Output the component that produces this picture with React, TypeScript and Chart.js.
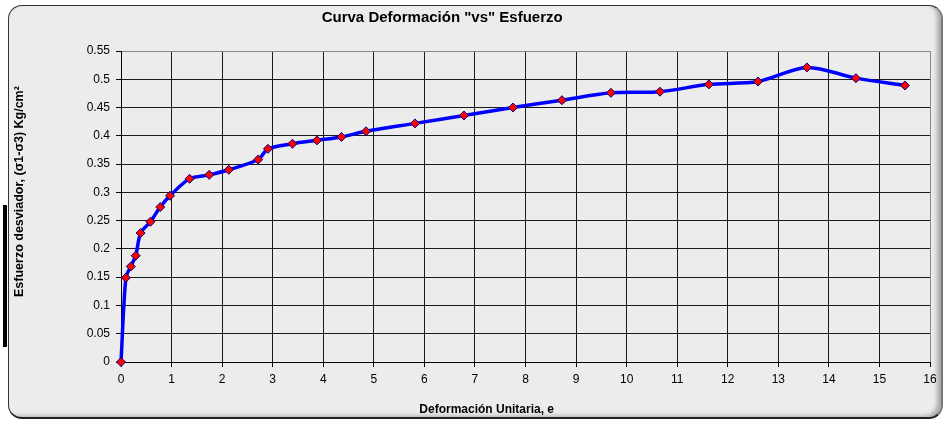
import React, { useEffect, useRef } from "react";
import { Chart, registerables } from "chart.js";

Chart.register(...registerables);

const TITLE = 'Curva Deformación "vs" Esfuerzo';
const X_TITLE = "Deformación Unitaria, e";
const Y_TITLE = "Esfuerzo desviador, (σ1-σ3) Kg/cm²";

const strain = [
  0, 0.097, 0.194, 0.291, 0.388, 0.582, 0.776, 0.97, 1.357, 1.745, 2.132,
  2.713, 2.907, 3.391, 3.876, 4.36, 4.845, 5.814, 6.783, 7.752, 8.721, 9.69,
  10.659, 11.628, 12.597, 13.566, 14.535, 15.504,
];
const stress = [
  0, 0.149, 0.169, 0.188, 0.228, 0.248, 0.274, 0.294, 0.324, 0.331, 0.34,
  0.358, 0.377, 0.386, 0.392, 0.398, 0.408, 0.422, 0.436, 0.45, 0.463, 0.476,
  0.478, 0.491, 0.496, 0.521, 0.502, 0.489,
];
const X_MIN = 0;
const X_MAX = 16;
const X_STEP = 1;
const Y_MIN = 0;
const Y_MAX = 0.55;
const Y_STEP = 0.05;

const FONT = '"Liberation Sans", Arial, sans-serif';

const textPlugin = {
  id: "customTexts",
  afterDraw(chart: any) {
    const { ctx, chartArea } = chart;
    ctx.save();
    ctx.fillStyle = "#000";
    ctx.textAlign = "center";
    ctx.textBaseline = "middle";
    ctx.font = `bold 15px ${FONT}`;
    ctx.fillText(TITLE, chartArea.left + (chartArea.right - chartArea.left) * 0.397, 18);
    ctx.font = `bold 12px ${FONT}`;
    ctx.fillText(X_TITLE, chartArea.left + (chartArea.right - chartArea.left) * 0.452, 410);
    ctx.translate(20, chartArea.top + (chartArea.bottom - chartArea.top) * 0.452);
    ctx.rotate(-Math.PI / 2);
    ctx.font = `bold 12.5px ${FONT}`;
    ctx.fillText(Y_TITLE, 0, 0);
    ctx.restore();
  },
};

export default function App() {
  const ref = useRef<HTMLCanvasElement | null>(null);

  useEffect(() => {
    if (!ref.current) return;
    const gridColor = (max: number) => (c: any) =>
      c.tick && Math.abs(c.tick.value - max) < 1e-9 ? "#8a8a8a" : "#1a1a1a";
    const chart = new Chart(ref.current, {
      type: "line",
      data: {
        datasets: [
          {
            data: strain.map((x, i) => ({ x, y: stress[i] })),
            borderColor: "#0000FF",
            borderWidth: 3.5,
            tension: 0.3,
            clip: false,
            pointStyle: "rectRot",
            pointRadius: 4.5,
            pointBackgroundColor: "#FF0000",
            pointBorderColor: "#000080",
            pointBorderWidth: 1,
            fill: false,
          },
        ],
      },
      options: {
        responsive: false,
        animation: false,
        layout: { padding: { top: 51, right: 18, bottom: 0, left: 0 } },
        plugins: {
          legend: { display: false },
          title: { display: false },
          tooltip: { enabled: false },
        },
        scales: {
          x: {
            type: "linear",
            min: X_MIN,
            max: X_MAX,
            afterFit: (s: any) => {
              s.height = 62;
            },
            ticks: {
              stepSize: X_STEP,
              color: "#000",
              padding: 5,
              maxRotation: 0,
              font: { family: FONT, size: 12 },
            },
            grid: {
              color: gridColor(X_MAX),
              tickColor: "#000",
              tickLength: 5,
              lineWidth: 1,
            },
            border: { color: "#000", width: 1 },
          },
          y: {
            min: Y_MIN,
            max: Y_MAX,
            afterFit: (s: any) => {
              s.width = 121;
            },
            ticks: {
              stepSize: Y_STEP,
              color: "#000",
              padding: 6,
              font: { family: FONT, size: 12 },
              callback: (v: any) => String(Math.round(Number(v) * 100) / 100),
            },
            grid: {
              color: gridColor(Y_MAX),
              tickColor: "#000",
              tickLength: 5,
              lineWidth: 1,
            },
            border: { color: "#000", width: 1 },
          },
        },
      },
      plugins: [textPlugin],
    });
    return () => chart.destroy();
  }, []);

  return (
    <div
      style={{
        position: "absolute",
        left: 0,
        top: 0,
        width: 948,
        height: 424,
        background: "#fff",
        overflow: "hidden",
      }}
    >
      <div
        style={{
          position: "absolute",
          left: 3,
          top: 205,
          width: 4,
          height: 142,
          background: "#000",
        }}
      />
      <div
        style={{
          position: "absolute",
          left: 8,
          top: 5,
          width: 935,
          height: 414,
          boxSizing: "border-box",
          borderRadius: 14,
          borderTop: "1.5px solid #333",
          borderLeft: "1.5px solid #333",
          borderRight: "2px solid #777",
          borderBottom: "2px solid #222",
          background: "#ececec",
          boxShadow: "inset -5px -2px 4px -1px rgba(0,0,0,0.28)",
        }}
      />
      <canvas
        ref={ref}
        width={948}
        height={424}
        style={{ position: "absolute", left: 0, top: 0, width: 948, height: 424 }}
      />
    </div>
  );
}
